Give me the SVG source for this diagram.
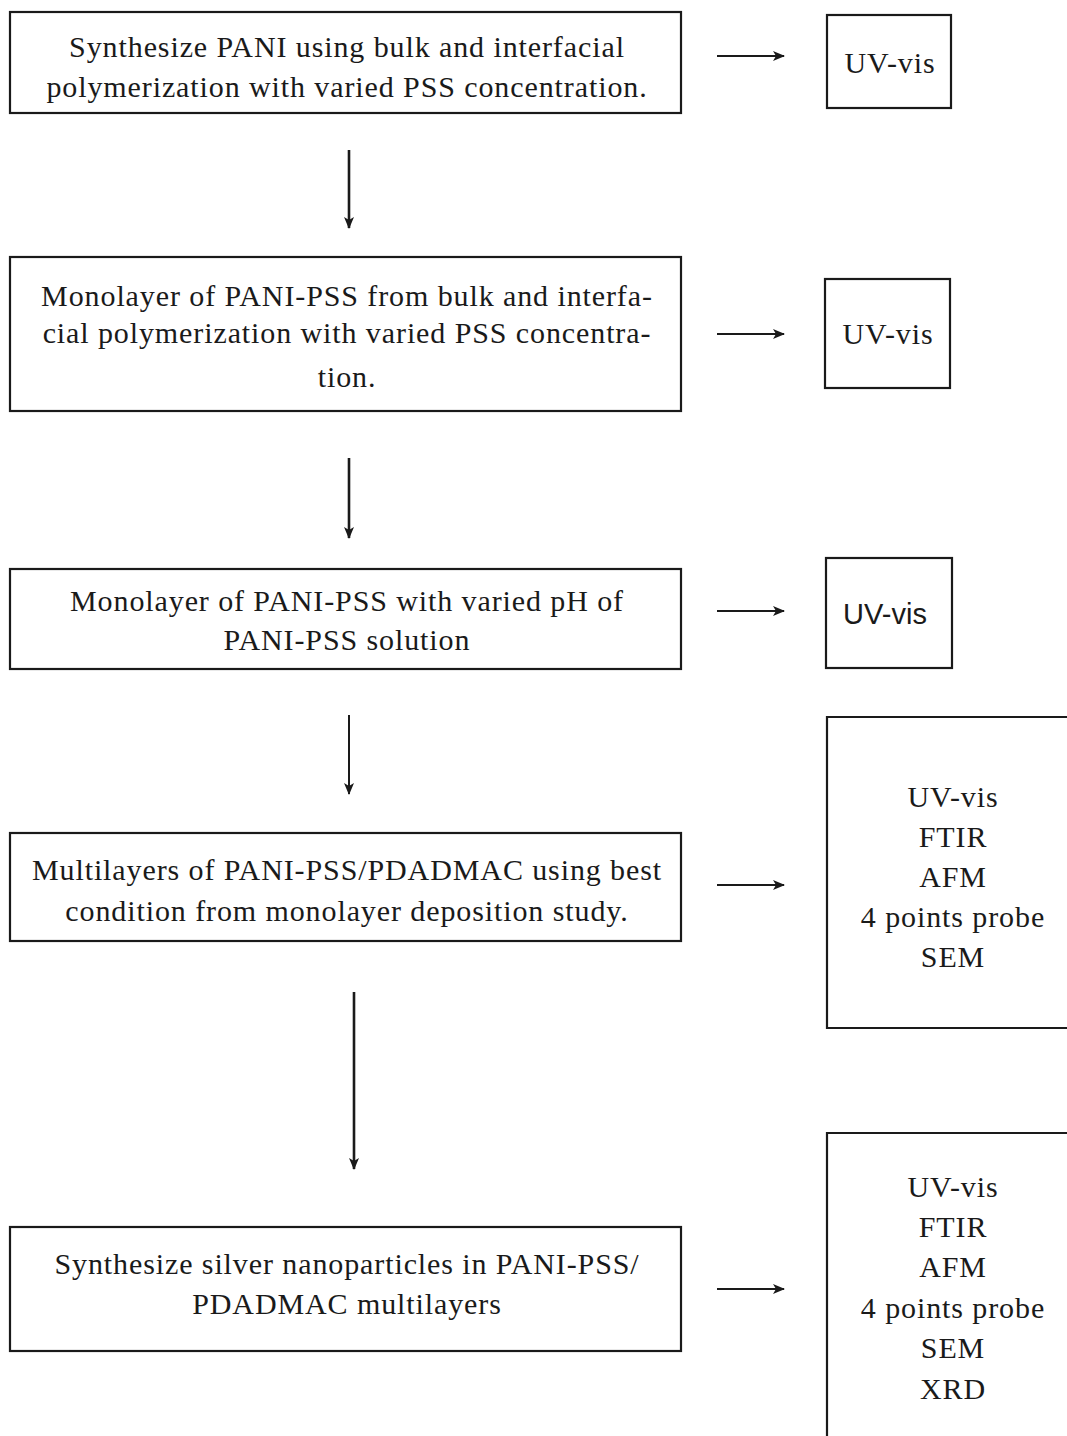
<svg xmlns="http://www.w3.org/2000/svg" width="1067" height="1436" viewBox="0 0 1067 1436">
<defs>
<style>
.box{fill:none;stroke:#1a1a1a;stroke-width:2.2}
.t{font-family:"Liberation Serif","Times New Roman",serif;font-size:30px;letter-spacing:0.9px;fill:#1a1a1a;text-anchor:middle}
.s{font-family:"Liberation Sans",Arial,sans-serif;font-size:29px;fill:#1a1a1a;text-anchor:middle}
.c{stroke:#1a1a1a;stroke-width:2;fill:none;marker-end:url(#ah)}
.v{stroke-width:2.6}
</style>
<marker id="ah" markerWidth="12" markerHeight="10" refX="11" refY="5" orient="auto" markerUnits="userSpaceOnUse">
<path d="M0,0 L12,5 L0,10 L3,5 Z" fill="#1a1a1a"/>
</marker>
</defs>
<rect width="1067" height="1436" fill="#fff"/>
<g id="n1"><rect class="box" x="10" y="12" width="671" height="101"/>
<text class="t" x="347" y="57">Synthesize PANI using bulk and interfacial</text>
<text class="t" x="347" y="97">polymerization with varied PSS concentration.</text></g>
<g id="r1"><rect class="box" x="827" y="15" width="124" height="93"/>
<text class="t" x="890" y="73">UV-vis</text></g>
<g id="n2"><rect class="box" x="10" y="257" width="671" height="154"/>
<text class="t" x="347" y="306">Monolayer of PANI-PSS from bulk and interfa-</text>
<text class="t" x="347" y="343">cial polymerization with varied PSS concentra-</text>
<text class="t" x="347" y="387">tion.</text></g>
<g id="r2"><rect class="box" x="825" y="279" width="125" height="109"/>
<text class="t" x="888" y="344">UV-vis</text></g>
<g id="n3"><rect class="box" x="10" y="569" width="671" height="100"/>
<text class="t" x="347" y="611">Monolayer of PANI-PSS with varied pH of</text>
<text class="t" x="347" y="650">PANI-PSS solution</text></g>
<g id="r3"><rect class="box" x="826" y="558" width="126" height="110"/>
<text class="s" x="885" y="624">UV-vis</text></g>
<g id="n4"><rect class="box" x="10" y="833" width="671" height="108"/>
<text class="t" x="347" y="880">Multilayers of PANI-PSS/PDADMAC using best</text>
<text class="t" x="347" y="921">condition from monolayer deposition study.</text></g>
<g id="r4"><path class="box" d="M1067,717 H827 V1028 H1067"/>
<text class="t" x="953" y="807">UV-vis</text>
<text class="t" x="953" y="847">FTIR</text>
<text class="t" x="953" y="887">AFM</text>
<text class="t" x="953" y="927">4 points probe</text>
<text class="t" x="953" y="967">SEM</text></g>
<g id="n5"><rect class="box" x="10" y="1227" width="671" height="124"/>
<text class="t" x="347" y="1274">Synthesize silver nanoparticles in PANI-PSS/</text>
<text class="t" x="347" y="1314">PDADMAC multilayers</text></g>
<g id="r5"><path class="box" d="M1067,1133 H827 V1436"/>
<text class="t" x="953" y="1197">UV-vis</text>
<text class="t" x="953" y="1237">FTIR</text>
<text class="t" x="953" y="1277">AFM</text>
<text class="t" x="953" y="1318">4 points probe</text>
<text class="t" x="953" y="1358">SEM</text>
<text class="t" x="953" y="1399">XRD</text></g>
<g id="connectors">
<line class="c" x1="717" y1="56" x2="784" y2="56"/>
<line class="c" x1="717" y1="334" x2="784" y2="334"/>
<line class="c" x1="717" y1="611" x2="784" y2="611"/>
<line class="c" x1="717" y1="885" x2="784" y2="885"/>
<line class="c" x1="717" y1="1289" x2="784" y2="1289"/>
<line class="c v" x1="349" y1="150" x2="349" y2="228"/>
<line class="c v" x1="349" y1="458" x2="349" y2="538"/>
<line class="c" x1="349" y1="715" x2="349" y2="794"/>
<line class="c v" x1="354" y1="992" x2="354" y2="1169"/>
</g>
</svg>
